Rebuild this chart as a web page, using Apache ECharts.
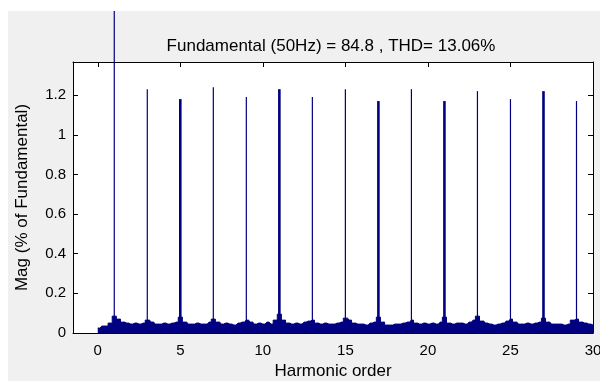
<!DOCTYPE html>
<html>
<head>
<meta charset="utf-8">
<script src="https://cdn.jsdelivr.net/npm/echarts@6/dist/echarts.min.js"></script>
<style>
  html, body { margin: 0; padding: 0; background: #fff; }
  #chart {
    position: absolute;
    left: 8px;
    top: 11px;
    width: 592px;
    height: 370px;
    background: #f0f0f0;
  }
</style>
</head>
<body>
<div id="chart"></div>
<script>
// fundamental + odd harmonics (% of fundamental)
var fundamentalOrder = 1;
var fundamentalMag = 100;
var harmonicOrder = [3, 5, 7, 9, 11, 13, 15, 17, 19, 21, 23, 25, 27, 29];
var harmonicMag = [1.23, 1.18, 1.24, 1.19, 1.23, 1.19, 1.23, 1.17, 1.23, 1.17, 1.22, 1.18, 1.22, 1.17];

// noise floor, one value every 0.25 harmonic from 0 to 30
var noiseStep = 0.25;
var noiseFloor = [
  0.025, 0.035, 0.035, 0.05, 0.085, 0.07, 0.055, 0.05,
  0.045, 0.05, 0.045, 0.05, 0.065, 0.055, 0.045, 0.045,
  0.05, 0.045, 0.05, 0.055, 0.08, 0.055, 0.045, 0.045,
  0.05, 0.045, 0.045, 0.055, 0.07, 0.055, 0.045, 0.05,
  0.045, 0.04, 0.05, 0.055, 0.065, 0.055, 0.045, 0.05,
  0.045, 0.055, 0.045, 0.065, 0.095, 0.065, 0.05, 0.045,
  0.05, 0.045, 0.055, 0.06, 0.065, 0.05, 0.045, 0.05,
  0.045, 0.045, 0.05, 0.055, 0.075, 0.065, 0.05, 0.045,
  0.045, 0.04, 0.05, 0.055, 0.08, 0.055, 0.04, 0.04,
  0.045, 0.045, 0.05, 0.055, 0.065, 0.05, 0.045, 0.05,
  0.045, 0.05, 0.045, 0.055, 0.08, 0.05, 0.045, 0.05,
  0.05, 0.045, 0.055, 0.065, 0.085, 0.06, 0.05, 0.045,
  0.04, 0.045, 0.05, 0.06, 0.07, 0.055, 0.045, 0.045,
  0.05, 0.045, 0.05, 0.055, 0.075, 0.055, 0.045, 0.045,
  0.045, 0.04, 0.045, 0.065, 0.07, 0.055, 0.05, 0.045, 0.04
];

var xTicks = [0, 5, 10, 15, 20, 25, 30];
var yTicks = [0, 0.2, 0.4, 0.6, 0.8, 1, 1.2];
var titleText = "Fundamental (50Hz) = 84.8 , THD= 13.06%";

var wideOrders = [5, 11, 17, 21, 27]; // these spikes look thicker
var navy = "#000080";
var font = "Liberation Sans, Arial, sans-serif";

var myChart = echarts.init(document.getElementById("chart"));

var spikeData = [[fundamentalOrder, fundamentalMag]];
harmonicOrder.forEach(function (h, i) {
  spikeData.push([h, harmonicMag[i]]);
});
var noiseData = noiseFloor.map(function (v, i) {
  return [i * noiseStep, v];
});

// thin rect per spike, through the axis scales
function renderSpike(params, api) {
  var h = api.value(0);
  var base = api.coord([h, 0]);
  var top = api.coord([h, api.value(1)]);
  var w = wideOrders.indexOf(h) >= 0 ? 2.6 : 1.2;
  return {
    type: "rect",
    shape: { x: base[0] - w / 2, y: top[1], width: w, height: base[1] - top[1] },
    style: { fill: navy },
  };
}

var tickStyle = {
  show: true,
  inside: true,
  length: 5,
  lineStyle: { color: "#000", width: 1 },
};
var axisLine = { show: true, onZero: false, lineStyle: { color: "#000", width: 1 } };
var tickFont = { color: "#000", fontSize: 15, fontFamily: font };
var nameFont = { color: "#000", fontSize: 17, fontFamily: font };

var option = {
  animation: false,
  title: {
    text: titleText,
    left: 318,
    top: 22,
    textAlign: "center",
    textStyle: {
      color: "#000",
      fontSize: 17,
      fontWeight: "normal",
      fontFamily: font,
    },
  },
  grid: {
    left: 65,
    top: 51,
    width: 520,
    height: 271,
    show: true,
    backgroundColor: "#fff",
    borderWidth: 0,
    containLabel: false,
    outerBoundsMode: "none",
  },
  xAxis: [
    {
      type: "value",
      position: "bottom",
      min: -1.5,
      max: 30,
      name: "Harmonic order",
      nameLocation: "middle",
      nameGap: 30,
      nameTextStyle: nameFont,
      axisLine: axisLine,
      axisTick: Object.assign({ customValues: xTicks }, tickStyle),
      axisLabel: Object.assign({ customValues: xTicks, margin: 10 }, tickFont),
      splitLine: { show: false },
    },
    {
      type: "value",
      position: "top",
      min: -1.5,
      max: 30,
      axisLine: axisLine,
      axisTick: Object.assign({ customValues: xTicks }, tickStyle),
      axisLabel: { show: false },
      splitLine: { show: false },
    },
  ],
  yAxis: [
    {
      type: "value",
      position: "left",
      min: 0,
      max: 1.367,
      name: "Mag (% of Fundamental)",
      nameLocation: "middle",
      nameGap: 42,
      nameTextStyle: nameFont,
      axisLine: axisLine,
      axisTick: Object.assign({ customValues: yTicks }, tickStyle),
      axisLabel: Object.assign({ customValues: yTicks, margin: 7 }, tickFont),
      splitLine: { show: false },
    },
    {
      type: "value",
      position: "right",
      min: 0,
      max: 1.367,
      axisLine: axisLine,
      axisTick: Object.assign({ customValues: yTicks }, tickStyle),
      axisLabel: { show: false },
      splitLine: { show: false },
    },
  ],
  series: [
    {
      name: "noise",
      type: "line",
      step: "middle",
      symbol: "none",
      data: noiseData,
      lineStyle: { color: navy, width: 1 },
      areaStyle: { color: navy, opacity: 1 },
      z: 2,
    },
    {
      name: "spikes",
      type: "custom",
      data: spikeData,
      renderItem: renderSpike,
      clip: false,
      z: 3,
    },
  ],
};

myChart.setOption(option, true);
</script>
</body>
</html>
